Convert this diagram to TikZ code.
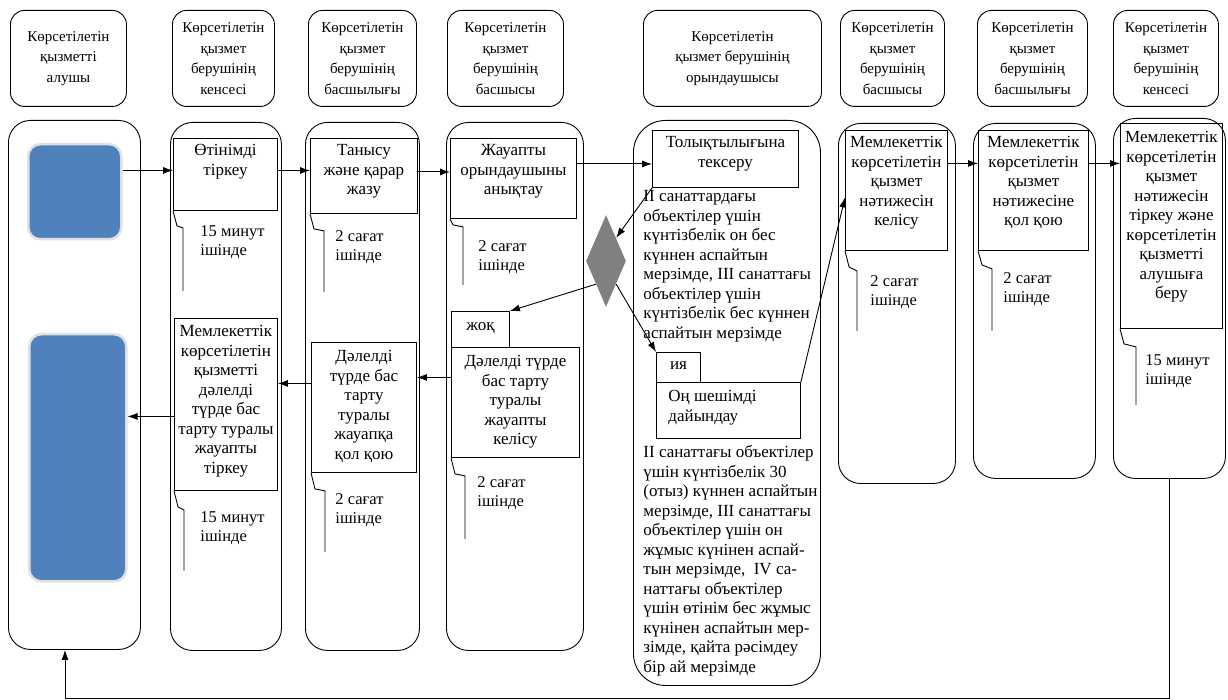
\documentclass[tikz,border=0pt]{standalone}
\usepackage{fontspec}
\setmainfont{Liberation Serif}
\usetikzlibrary{shapes.geometric, arrows.meta}

\definecolor{stepblue}{HTML}{4F81BD}

\begin{document}
\begin{tikzpicture}[x=1pt, y=-1pt, >={Latex[length=10pt, width=7pt]}, line width=0.9pt,
        lane/.style={draw, rounded corners=22, anchor=north west},
        head/.style={draw, rounded corners=14, anchor=north west, align=center,
            font=\fontsize{15}{20.5}\selectfont},
        box/.style={draw, anchor=north west},
        txt/.style={anchor=north, align=center, inner sep=0pt,
            font=\fontsize{17}{19.5}\selectfont},
        note/.style={anchor=north west, align=left, inner sep=0pt,
            font=\fontsize{16.5}{19.5}\selectfont},
        blue/.style={fill=stepblue, draw=black!12, line width=2.5pt, rounded corners=12, anchor=north west}]
        \useasboundingbox (0,0) rectangle (1228,700);

        % Заголовки
        \node[head, minimum width=116, minimum height=96] (h1) at (10,10) {Көрсетілетін\\қызметті\\алушы};
        \node[head, minimum width=102, minimum height=96] (h2) at (172,10) {Көрсетілетін\\қызмет\\берушінің\\кенсесі};
        \node[head, minimum width=108, minimum height=96] (h3) at (308,10) {Көрсетілетін\\қызмет\\берушінің\\басшылығы};
        \node[head, minimum width=116, minimum height=96] (h4) at (447,10) {Көрсетілетін\\қызмет\\берушінің\\басшысы};
        \node[head, minimum width=178, minimum height=96] (h5) at (643,10) {Көрсетілетін\\қызмет берушінің\\орындаушысы};
        \node[head, minimum width=104, minimum height=96] (h6) at (840,10) {Көрсетілетін\\қызмет\\берушінің\\басшысы};
        \node[head, minimum width=110, minimum height=96] (h7) at (977,10) {Көрсетілетін\\қызмет\\берушінің\\басшылығы};
        \node[head, minimum width=105, minimum height=96] (h8) at (1113,10) {Көрсетілетін\\қызмет\\берушінің\\кенсесі};

        % Бағандар
        \node[lane, minimum width=132, minimum height=529] (c1) at (8,120) {};
        \node[lane, minimum width=111, minimum height=528] (c2) at (170,122) {};
        \node[lane, minimum width=114, minimum height=528] (c3) at (305,122) {};
        \node[lane, minimum width=137, minimum height=528] (c4) at (446,122) {};
        \node[lane, minimum width=187, minimum height=565, rounded corners=32] (c5) at (633,120) {};
        \node[lane, minimum width=117, minimum height=360] (c6) at (838,123) {};
        \node[lane, minimum width=122, minimum height=355] (c7) at (973,123) {};
        \node[lane, minimum width=112, minimum height=360] (c8) at (1113,118) {};

        \node[blue, minimum width=93, minimum height=95] (start) at (27,143) {};
        \node[blue, minimum width=97, minimum height=247] (stop) at (28,333) {};

        % Негізгі қадамдар
        \node[box, minimum width=104, minimum height=72] (reg) at (173,138) {};
        \node[txt] (reg-t) at ([yshift=-6]reg.north) {Өтінімді\\тіркеу};
        \node[box, minimum width=107, minimum height=75] (rev) at (310,138) {};
        \node[txt] (rev-t) at ([yshift=-6]rev.north) {Танысу\\және қарар\\жазу};
        \node[box, minimum width=126, minimum height=80] (resp) at (450,138) {};
        \node[txt] (resp-t) at ([yshift=-6]resp.north) {Жауапты\\орындаушыны\\анықтау};
        \node[box, minimum width=146, minimum height=57] (check) at (652,130) {};
        \node[txt] (check-t) at ([yshift=-6]check.north) {Толықтылығына\\тексеру};

        \node[note, font=\fontsize{17}{19.5}\selectfont] (crit1) at (643,190) {II санаттардағы\\объектілер үшін\\күнтізбелік он бес\\күннен аспайтын\\мерзімде, III санаттағы\\объектілер үшін\\күнтізбелік бес күннен\\аспайтын мерзімде};

        \node[diamond, fill=gray, inner sep=0pt, minimum width=40, minimum height=92] (dia) at (606,261) {};

        \node[box, minimum width=58, minimum height=36] (no) at (451,311) {};
        \node[txt] (no-t) at ([yshift=-11]no.north) {жоқ};
        \node[box, minimum width=128, minimum height=110] (refuse) at (451,347) {};
        \node[txt] (refuse-t) at ([yshift=-8]refuse.north) {Дәлелді түрде\\бас тарту\\туралы\\жауапты\\келісу};

        \node[box, minimum width=44, minimum height=30] (yes) at (656,352) {};
        \node[txt] (yes-t) at ([yshift=-9]yes.north) {ия};
        \node[box, minimum width=144, minimum height=56] (prep) at (656,382) {};
        \node[note, font=\fontsize{17}{19.5}\selectfont] (prep-t) at (668,390) {Оң шешімді\\дайындау};

        \node[note, font=\fontsize{17}{19.5}\selectfont] (crit2) at (643,445) {II санаттағы объектілер\\үшін күнтізбелік 30\\(отыз) күннен аспайтын\\мерзімде, III санаттағы\\объектілер үшін он\\жұмыс күнінен аспай-\\тын мерзімде,\ \ IV са-\\наттағы объектілер\\үшін өтінім бес жұмыс\\күнінен аспайтын мер-\\зімде, қайта рәсімдеу\\бір ай мерзімде};

        \node[box, minimum width=105, minimum height=130] (sgnrefuse) at (311,342) {};
        \node[txt] (sgnrefuse-t) at ([yshift=-8]sgnrefuse.north) {Дәлелді\\түрде бас\\тарту\\туралы\\жауапқа\\қол қою};
        \node[box, minimum width=103, minimum height=172] (regrefuse) at (174,318) {};
        \node[txt] (regrefuse-t) at ([yshift=-7]regrefuse.north) {Мемлекеттік\\көрсетілетін\\қызметті\\дәлелді\\түрде бас\\тарту туралы\\жауапты\\тіркеу};

        \node[box, minimum width=102, minimum height=120] (agree) at (845,130) {};
        \node[txt] (agree-t) at ([yshift=-6]agree.north) {Мемлекеттік\\көрсетілетін\\қызмет\\нәтижесін\\келісу};
        \node[box, minimum width=110, minimum height=120] (sign) at (978,130) {};
        \node[txt] (sign-t) at ([yshift=-6]sign.north) {Мемлекеттік\\көрсетілетін\\қызмет\\нәтижесіне\\қол қою};
        \node[box, minimum width=102, minimum height=205] (issue) at (1120,123) {};
        \node[txt] (issue-t) at ([yshift=-8]issue.north) {Мемлекеттік\\көрсетілетін\\қызмет\\нәтижесін\\тіркеу және\\көрсетілетін\\қызметті\\алушыға\\беру};

        % Мерзімдер
        \draw (reg.south west) -- ++(4,15) -- ++(6,2) -- ++(0,63);
        \node[note] (reg-n) at ([shift={(27,14)}]reg.south west) {15 минут\\ішінде};
        \draw (rev.south west) -- ++(4,15) -- ++(10,2) -- ++(0,61);
        \node[note] (rev-n) at ([shift={(25,16)}]rev.south west) {2 сағат\\ішінде};
        \draw (resp.south west) -- ++(3,6) -- ++(10,2) -- ++(0,58);
        \node[note] (resp-n) at ([shift={(28,21)}]resp.south west) {2 сағат\\ішінде};
        \draw (refuse.south west) -- ++(4,16) -- ++(10,2) -- ++(0,63);
        \node[note] (refuse-n) at ([shift={(26,18)}]refuse.south west) {2 сағат\\ішінде};
        \draw (sgnrefuse.south west) -- ++(4,16) -- ++(10,2) -- ++(0,61);
        \node[note] (sgnrefuse-n) at ([shift={(24,20)}]sgnrefuse.south west) {2 сағат\\ішінде};
        \draw (regrefuse.south west) -- ++(4,16) -- ++(6,3) -- ++(0,61);
        \node[note] (regrefuse-n) at ([shift={(26,20)}]regrefuse.south west) {15 минут\\ішінде};
        \draw (agree.south west) -- ++(4,16) -- ++(8,4) -- ++(0,60);
        \node[note] (agree-n) at ([shift={(25,24)}]agree.south west) {2 сағат\\ішінде};
        \draw (sign.south west) -- ++(4,14) -- ++(10,4) -- ++(0,62);
        \node[note] (sign-n) at ([shift={(25,21)}]sign.south west) {2 сағат\\ішінде};
        \draw (issue.south west) -- ++(4,15) -- ++(12,3) -- ++(0,58);
        \node[note] (issue-n) at ([shift={(25,25)}]issue.south west) {15 минут\\ішінде};

        % Байланыстар
        \draw[->] ([yshift=4]reg.west -| start.east) -- ([yshift=4]reg.west);
        \draw[->] ([yshift=4]reg.east) -- ([yshift=4]reg.east -| rev.west);
        \draw[->] ([yshift=4]rev.east) -- ([yshift=4]rev.east -| resp.west);
        \draw[->] ([yshift=-5]check.west -| resp.east) -- ([yshift=-5]check.west);
        \draw[->] (check.south west) -- (dia.north east);
        \draw[->] (dia.south west) -- (no.north east);
        \draw[->] (dia.south east) -- (yes.north west);
        \draw[->] (prep.north east) -- ([yshift=-7]agree.west);
        \draw[->] ([yshift=27]agree.east) -- ([yshift=27]agree.east -| sign.west);
        \draw[->] ([yshift=27]sign.east) -- ([yshift=27]sign.east -| issue.west);
        \draw[->] ([yshift=25]refuse.west) -- ([yshift=25]refuse.west -| sgnrefuse.east);
        \draw[->] ([yshift=24]sgnrefuse.west) -- ([yshift=24]sgnrefuse.west -| regrefuse.east);
        \draw[->] ([yshift=-12]regrefuse.west) -- ([yshift=-12]regrefuse.west -| stop.east);

        \coordinate (back) at (65,698);
        \draw[->] (c8.south) |- (back) -- (back |- c1.south);
\end{tikzpicture}
\end{document}
